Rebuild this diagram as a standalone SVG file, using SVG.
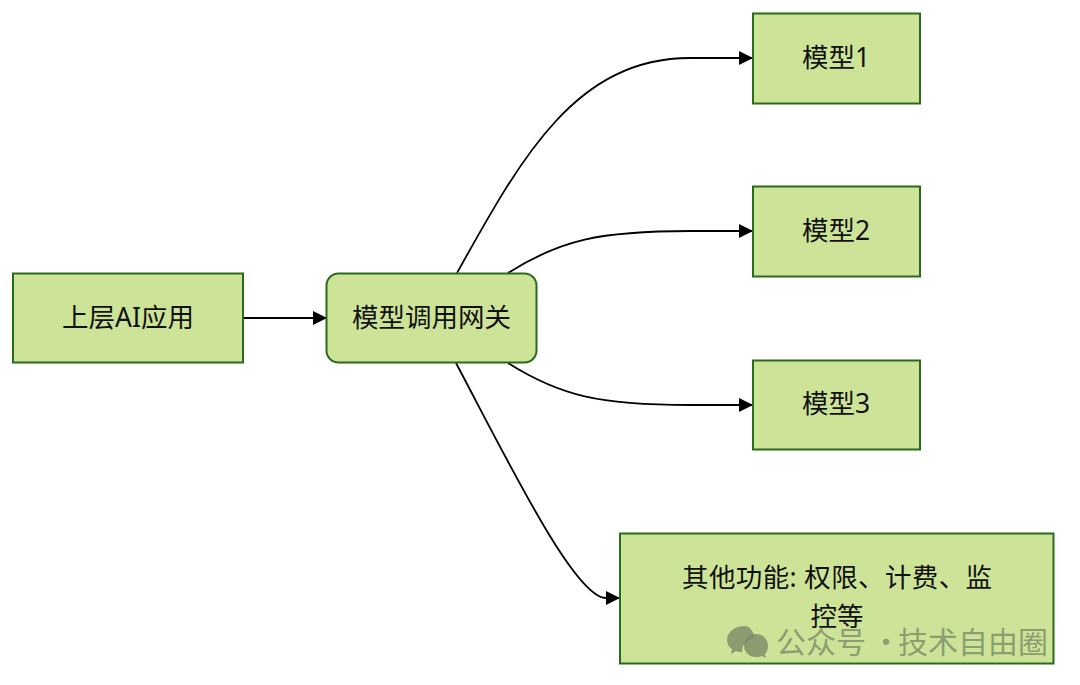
<svg xmlns="http://www.w3.org/2000/svg" width="1080" height="685" viewBox="0 0 1080 685">
<style>
.n{fill:#cde498;stroke:#2a6a1c;stroke-width:2}
.t{font-family:"Noto Sans","Noto Sans CJK SC",sans-serif;font-size:26.5px;fill:#111;text-anchor:middle}
.c{fill:none;stroke:#000;stroke-width:1.800;marker-end:url(#a)}
.w{font-family:"Noto Sans CJK SC",sans-serif;font-size:30px;fill:#7a8a68;fill-opacity:.8}
</style>
<defs><marker id="a" markerUnits="userSpaceOnUse" markerWidth="15" markerHeight="15" refX="14" refY="7.500" orient="auto"><path d="M0 0.500L14 7.500L0 14.500Z" fill="#000"/></marker></defs>
<rect width="1080" height="685" fill="#fff"/>
<g id="connectors">
<path class="c" d="M243 318H327"/>
<path class="c" d="M457 273C520 160 575 58 690 58H753"/>
<path class="c" d="M508 273C560 240 600 231 690 231H753"/>
<path class="c" d="M508 363C560 396 600 405 690 405H753"/>
<path class="c" d="M456 363C510 465 575 598 606 598H620"/>
</g>
<g id="app"><rect class="n" x="13" y="273.500" width="230" height="89"/><text class="t" x="128" y="327">上层AI应用</text></g>
<g id="gateway"><rect class="n" x="326.500" y="273.500" width="210" height="89" rx="12"/><text class="t" x="431.500" y="327">模型调用网关</text></g>
<g id="model1"><rect class="n" x="753" y="13.500" width="167" height="90"/><text class="t" x="836" y="67">模型1</text></g>
<g id="model2"><rect class="n" x="753" y="186.500" width="167" height="90"/><text class="t" x="836" y="240">模型2</text></g>
<g id="model3"><rect class="n" x="753" y="360.500" width="167" height="89"/><text class="t" x="836" y="413">模型3</text></g>
<g id="other"><rect class="n" x="620" y="533.500" width="433.500" height="130"/>
<text class="t" x="837" y="587" textLength="310" lengthAdjust="spacing">其他功能: 权限、计费、监</text><text class="t" x="837" y="626">控等</text></g>
<g id="watermark" fill="#7a8a68" fill-opacity=".8">
<path d="M745 626C735 626 727 632 727 640C727 644 729 647 732 649L731 654L736 651C738 652 740 652 742 652C742 644 748 639 755 638C753 631 750 626 745 626Z"/>
<path d="M756 634C749 634 744 639 744 646C744 652 749 657 756 657C758 657 760 657 762 656L766 658L765 654C767 652 768 649 768 646C768 639 763 634 756 634Z"/>
<text class="w" x="776" y="653">公众号</text><text class="w" x="871" y="653">·</text><text class="w" x="898" y="653">技术自由圈</text>
</g>
</svg>
